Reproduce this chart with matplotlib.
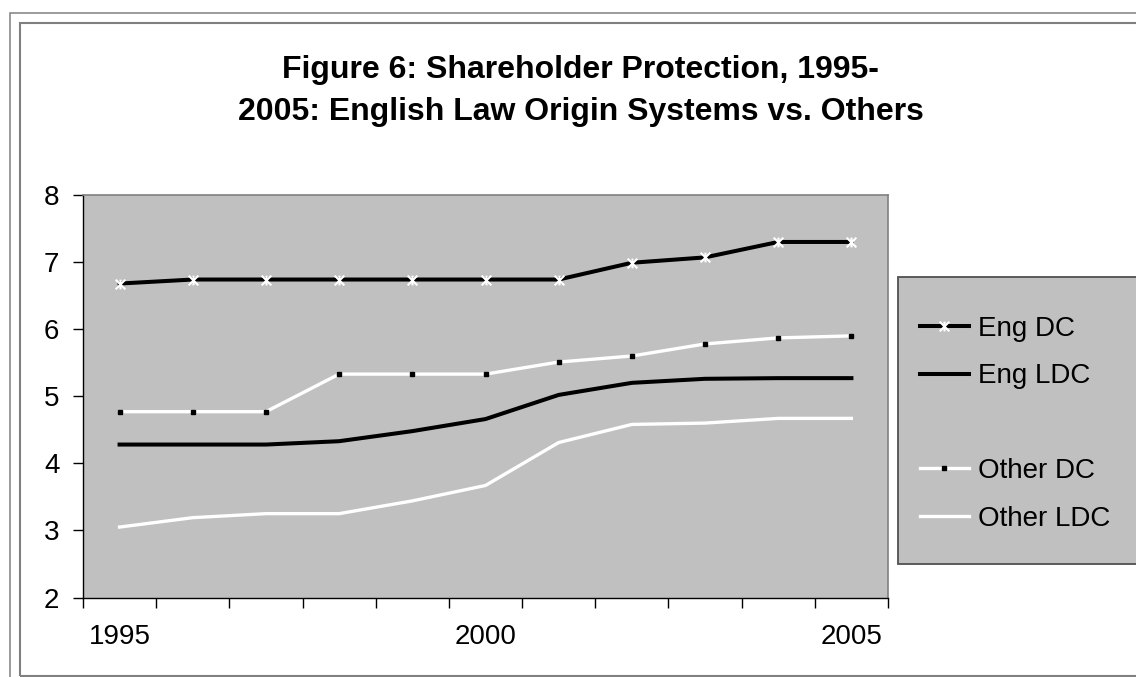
import matplotlib
matplotlib.use("Agg")
import matplotlib.pyplot as plt
from matplotlib.lines import Line2D
from matplotlib.patches import Rectangle
from matplotlib.path import Path

plt.rcParams["font.family"] = ["Liberation Sans", "DejaVu Sans"]

# data
years = [1995, 1996, 1997, 1998, 1999, 2000, 2001, 2002, 2003, 2004, 2005]
eng_dc = [6.68, 6.74, 6.74, 6.74, 6.74, 6.74, 6.74, 6.99, 7.07, 7.30, 7.30]
eng_ldc = [4.28, 4.28, 4.28, 4.33, 4.48, 4.66, 5.02, 5.20, 5.26, 5.27, 5.27]
other_dc = [4.77, 4.77, 4.77, 5.33, 5.33, 5.33, 5.51, 5.60, 5.78, 5.87, 5.90]
other_ldc = [3.05, 3.19, 3.25, 3.25, 3.44, 3.67, 4.31, 4.58, 4.60, 4.67, 4.67]
year_labels = [1995, 2000, 2005]
title_lines = ["Figure 6: Shareholder Protection, 1995-",
               "2005: English Law Origin Systems vs. Others"]

W, H = 1136, 677
fig = plt.figure(figsize=(W / 100, H / 100), dpi=100)
fig.patch.set_facecolor("white")

# outer / inner frame lines (chart is cropped on the right)
fig.add_artist(Rectangle((10 / W, -0.2), 2, 1.2 - 13 / H, transform=fig.transFigure,
                         fill=False, edgecolor="#808080", lw=1.1))
fig.add_artist(Rectangle((20 / W, 1 - 676 / H), 2, (676 - 23) / H, transform=fig.transFigure,
                         fill=False, edgecolor="#808080", lw=1.5))

ax = fig.add_axes([83 / W, 1 - 597.5 / H, (888 - 83) / W, (597.5 - 195) / H])
ax.set_facecolor("#C0C0C0")

# excel style star: an x with a vertical bar
star = Path([(-1, -1), (1, 1), (-1, 1), (1, -1), (0, -1), (0, 1)],
            [Path.MOVETO, Path.LINETO, Path.MOVETO, Path.LINETO, Path.MOVETO, Path.LINETO])

ax.plot(years, eng_dc, color="black", lw=2.9, marker=star, ms=7,
        mec="white", mew=1.5, label="Eng DC")
ax.plot(years, eng_ldc, color="black", lw=2.9, label="Eng LDC")
ax.plot(years, other_dc, color="white", lw=2.4, marker="s", ms=3.2,
        mfc="black", mec="black", label="Other DC")
ax.plot(years, other_ldc, color="white", lw=2.4, label="Other LDC")

ax.set_xlim(years[0] - 0.5, years[-1] + 0.5)
ax.set_ylim(2, 8)
ax.set_yticks(range(2, 9))

ax.set_xticks([y - 0.5 for y in years] + [years[-1] + 0.5])
ax.set_xticklabels([])
ax.set_xticks(year_labels, minor=True)
ax.set_xticklabels([str(y) for y in year_labels], minor=True)
ax.tick_params(axis="x", which="major", direction="out", length=7, width=1, color="black")
ax.tick_params(axis="x", which="minor", length=0, pad=19, labelsize=20)
ax.tick_params(axis="y", direction="out", length=7, width=1, color="black",
               pad=10, labelsize=20)

for side in ("left", "bottom"):
    ax.spines[side].set_color("black")
    ax.spines[side].set_linewidth(1)
for side in ("top", "right"):
    ax.spines[side].set_color("#808080")
    ax.spines[side].set_linewidth(1.2)

# title
fig.text(580 / W, 1 - 78 / H, title_lines[0], ha="center", va="baseline",
         fontsize=23, fontweight="bold")
fig.text(581 / W, 1 - 120 / H, title_lines[1], ha="center", va="baseline",
         fontsize=23, fontweight="bold")

# legend box (extends past the right edge)
fig.add_artist(Rectangle((898 / W, 1 - 564 / H), 1, (564 - 277) / H,
                         transform=fig.transFigure, facecolor="#C0C0C0",
                         edgecolor="#505050", lw=1.3, zorder=1))
handles, labels = ax.get_legend_handles_labels()
blank = Line2D([], [], color="none")
handles = handles[:2] + [blank] + handles[2:]
labels = labels[:2] + [" "] + labels[2:]
leg = fig.legend(handles, labels, loc="upper left",
                 bbox_to_anchor=(920 / W, 1 - 316 / H), frameon=False,
                 fontsize=20, borderpad=0, borderaxespad=0, handlelength=1.75,
                 handletextpad=0.32, labelspacing=0.77)
leg.set_zorder(5)

fig.savefig("out.png", dpi=100)
